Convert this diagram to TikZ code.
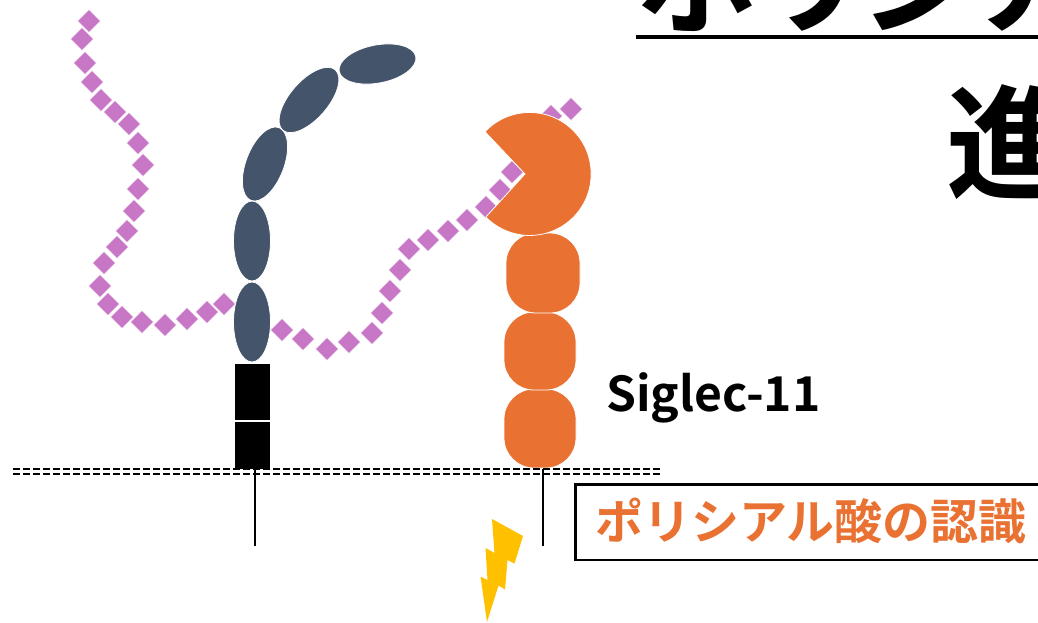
\documentclass[tikz,border=0pt]{standalone}
\usepackage{fontspec}
\usetikzlibrary{shapes.geometric}
\newfontfamily\jpb{Noto Sans CJK JP Bold}
\newfontfamily\jpbp{Noto Sans CJK JP Bold}[RawFeature=+palt]
\definecolor{slate}{HTML}{44546A}
\definecolor{recog}{HTML}{E97132}
\definecolor{sialic}{HTML}{C777C5}
\definecolor{bolt}{HTML}{FFC000}
\tikzset{
  sia/.style={rectangle, fill=sialic, draw=white, line width=0.8pt, minimum size=16.5pt, inner sep=0pt, rotate=45},
  igdomain/.style={ellipse, fill=slate, draw=white, line width=0.8pt, inner sep=0pt},
  tmbox/.style={fill=black, draw=white, line width=0.8pt},
  lobe/.style={fill=recog, draw=white, line width=0.8pt, rounded corners=30pt},
  membrane/.style={black, line width=2.2pt, dash pattern=on 7pt off 3pt},
  tailline/.style={black, line width=2.4pt},
}
\begin{document}
\begin{tikzpicture}[x=1pt, y=-1pt]
\useasboundingbox (0,0) rectangle (1038,622);
\clip (0,0) rectangle (1038,622);

% polysialic acid chains
\foreach \x/\y [count=\i] in {89/21, 82/39, 85/63, 92/82, 101/100, 115/112, 129/124, 138/143,
  143/165, 138/189, 134/211, 127/231, 117/247, 104/263, 100/286, 108/304, 122/317, 142/322,
  165/325, 187/319, 207/312, 224/304}
  \node[sia] (pa\i) at (\x,\y) {};
\foreach \x/\y [count=\i] in {282/330, 303/339, 327/349, 349/342, 372/333, 382/313, 390/291,
  400/270, 409/249, 428/240, 448/231, 467/220, 486/207, 500/190, 512/172, 551/116, 571/109}
  \node[sia] (pb\i) at (\x,\y) {};

% carrier protein: Ig-like domains
\node[igdomain, minimum width=37pt, minimum height=80pt] (g1) at (252,322) {};
\node[igdomain, minimum width=37pt, minimum height=80pt] (g2) at (252,241) {};
\node[igdomain, minimum width=78pt, minimum height=38pt, rotate=69] (g3) at (265,164) {};
\node[igdomain, minimum width=80pt, minimum height=38pt, rotate=49] (g4) at (309,100) {};
\node[igdomain, minimum width=78pt, minimum height=38pt, rotate=11] (g5) at (377.5,64) {};
% stem
\path[tmbox] (234,363) rectangle (270,420);
\path[tmbox] (234,421) rectangle (270,469);
\coordinate (stemA) at (255,469);
\coordinate (endA) at (255,546);

% Siglec-11
\path[lobe] (504,389) rectangle (576,468);
\path[lobe] (504,312) rectangle (576,390);
\path[lobe] (506,233) rectangle (580,313);
\fill[recog, draw=white, line width=0.8pt] (525,174) -- (485.0,131.7)
  arc[start angle=-136.6, end angle=135.5, radius=61.5] -- cycle;
\coordinate (stemB) at (543,469);
\coordinate (endB) at (543,546);

% membrane
\draw[membrane] (13,469.3) -- (662,469.3);
\draw[membrane] (13,473.7) -- (662,473.7);
\draw[tailline] (stemA) -- (endA);
\draw[tailline] (stemB) -- (endB);

% signal
\fill[bolt] (492,519) -- (523,536) -- (514.5,563.5) -- (507.5,560) -- (505,589.5)
  -- (498.5,585.5) -- (487,622) -- (480.5,576.5) -- (487.5,580) -- (485.5,548)
  -- (494.5,553) -- cycle;

% labels
\node[anchor=base west, inner sep=0pt, font=\jpb\fontsize{48}{50}\selectfont] (siglec) at (606,411) {Siglec-11};
\draw[black, line width=2.2pt] (575.5,484.5) rectangle (1045,560);
\node[inner sep=0pt, text=recog, font=\jpb\fontsize{48}{50}\selectfont] (recogtext) at (811,521) {ポリシアル酸の認識};

% heading
\node[anchor=base west, inner sep=0pt, font=\jpbp\fontsize{122}{124}\selectfont] (title) at (636,24) {ポリシアル};
\draw[black, line width=4pt] (636,37) -- (1045,37);
\node[anchor=base west, inner sep=0pt, font=\jpb\fontsize{124}{126}\selectfont] (sub) at (946,189) {進};
\end{tikzpicture}
\end{document}
